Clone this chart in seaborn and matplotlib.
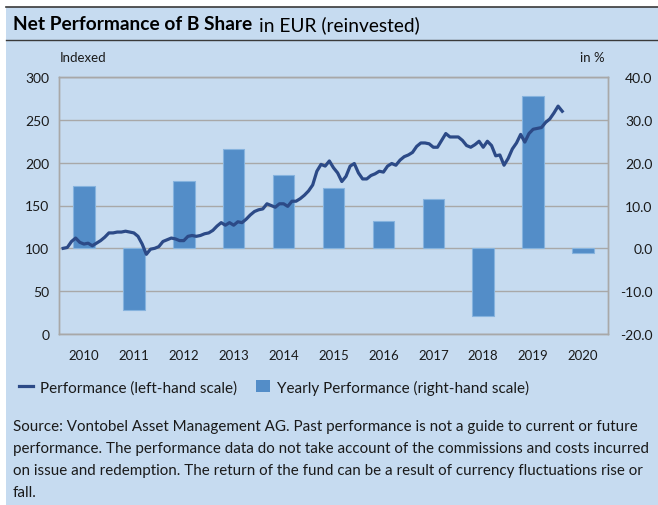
import numpy as np
import pandas as pd
import seaborn as sns
import matplotlib.pyplot as plt
from matplotlib.patches import Rectangle, Patch
from matplotlib.lines import Line2D
from matplotlib.ticker import MultipleLocator, FixedLocator

# Yearly performance in % (right-hand scale)
years = ['2010', '2011', '2012', '2013', '2014', '2015', '2016', '2017', '2018', '2019', '2020']
yearly = [14.6, -14.3, 15.8, 23.1, 17.1, 14.0, 6.4, 11.5, -15.7, 35.6, -1.2]

# Monthly indexed performance (left-hand scale), Jan 2010 - Jan 2020
perf = [
    100, 101, 108, 112, 107, 105, 106, 103, 106, 109, 113, 118,   # 2010
    118, 119, 119, 120, 119, 118, 114, 105, 93, 99, 100, 102,     # 2011
    108, 110, 112, 111, 109, 109, 114, 115, 114, 115, 117, 118,   # 2012
    121, 126, 130, 127, 130, 127, 131, 130, 134, 139, 143, 145,   # 2013
    146, 152, 150, 148, 152, 152, 149, 155, 155, 158, 162, 167,   # 2014
    174, 190, 198, 196, 202, 194, 188, 178, 184, 196, 199, 188,   # 2015
    181, 181, 185, 187, 190, 189, 196, 199, 197, 203, 207, 209,   # 2016
    212, 219, 223, 223, 222, 218, 218, 226, 234, 230, 230, 230,   # 2017
    226, 220, 218, 221, 225, 218, 225, 220, 208, 209, 197, 205,   # 2018
    216, 223, 233, 224, 234, 239, 240, 241, 247, 251, 258, 266,   # 2019
    260,                                                          # 2020
]
months = pd.date_range('2010-01-01', periods=len(perf), freq='MS')

BG = '#C6DBF0'
BAR = '#538DC8'
LINE = '#2C4A87'
GRID = '#A8A8A8'
TXT = '#1A1A1A'

plt.rcParams['font.family'] = ['Lato', 'DejaVu Sans']

W, H = 658, 506
fig = plt.figure(figsize=(W / 100, H / 100), dpi=100)
fig.patch.set_facecolor('white')

# panel background and title rules
fig.patches.append(Rectangle((6 / W, 0), 1, 1 - 8 / H, transform=fig.transFigure,
                             facecolor=BG, edgecolor='none', zorder=0))
fig.add_artist(Line2D([6 / W, 1], [1 - 8 / H, 1 - 8 / H], color='#3A3A3A', lw=1.2))
fig.add_artist(Line2D([6 / W, 1], [1 - 41 / H, 1 - 41 / H], color='#3A3A3A', lw=1.0))

# title: bold part followed by regular part
t1 = fig.text(13 / W, 1 - 25 / H, 'Net Performance of B Share', fontsize=13.8,
              fontweight='bold', va='center', ha='left', color='black')
fig.canvas.draw()
bb = t1.get_window_extent(renderer=fig.canvas.get_renderer())
fig.text((bb.x1 + 7) / W, 1 - 25 / H, 'in EUR (reinvested)', fontsize=13.8,
         va='center', ha='left', color='black')

# axes: ax = line (left scale), ax2 = bars (right scale)
ax = fig.add_axes([59 / W, 1 - 335 / H, (608 - 59) / W, (335 - 78) / H])
ax2 = ax.twinx()
ax.set_zorder(2)
ax2.set_zorder(1)
ax.patch.set_visible(False)
ax2.patch.set_visible(False)

sns.barplot(x=years, y=yearly, ax=ax2, color=BAR, width=0.43, saturation=1,
            edgecolor='#86B3DE', linewidth=0.8)

x_pos = (months.year - 2010) + (months.month) / 12 - 0.5
sns.lineplot(x=x_pos, y=perf, ax=ax, color=LINE, linewidth=2.3)

ax.set_xlim(-0.5, 10.5)
ax.set_ylim(0, 300)
ax2.set_ylim(-20, 40)

ax.yaxis.set_major_locator(MultipleLocator(50))
ax2.yaxis.set_major_locator(MultipleLocator(10))
ax2.set_yticklabels([f'{v:.1f}' for v in ax2.get_yticks()])

ax.set_xticks(range(len(years)))
ax.set_xticklabels(years)
ax2.xaxis.set_minor_locator(FixedLocator(np.arange(-0.5, 11, 1)))

ax2.set_axisbelow(True)
ax2.grid(True, which='major', axis='y', color=GRID, lw=1)
ax2.grid(True, which='minor', axis='x', color=GRID, lw=1)
ax2.grid(False, which='major', axis='x')

for a in (ax, ax2):
    a.set_xlabel('')
    a.set_ylabel('')
    for s in a.spines.values():
        s.set_color(GRID)
        s.set_linewidth(1)

ax.tick_params(axis='y', length=0, pad=7, labelsize=10, labelcolor=TXT)
ax.tick_params(axis='x', which='both', length=0, pad=11, labelsize=9.5, labelcolor=TXT)
ax2.tick_params(axis='y', length=0, pad=32, labelsize=10, labelcolor=TXT)
ax2.tick_params(axis='x', which='both', length=0)
for lab in ax2.get_yticklabels():
    lab.set_horizontalalignment('right')

fig.text(60 / W, 1 - 58 / H, 'Indexed', fontsize=9.5, va='center', ha='left', color=TXT)
fig.text(605 / W, 1 - 58 / H, 'in %', fontsize=9.5, va='center', ha='right', color=TXT)

handles = [Line2D([0], [0], color=LINE, lw=2.3),
           Patch(facecolor=BAR, edgecolor='none')]
fig.legend(handles, ['Performance (left-hand scale)', 'Yearly Performance (right-hand scale)'],
           loc='center left', bbox_to_anchor=(0.008, 1 - 388 / H), ncol=2, frameon=False,
           fontsize=11, handlelength=0.9, handleheight=0.85, handletextpad=0.5,
           columnspacing=1.2, labelcolor=TXT)

source = [
    'Source: Vontobel Asset Management AG. Past performance is not a guide to current or future',
    'performance. The performance data do not take account of the commissions and costs incurred',
    'on issue and redemption. The return of the fund can be a result of currency fluctuations rise or',
    'fall.',
]
for i, line in enumerate(source):
    fig.text(13 / W, 1 - (427 + 22 * i) / H, line, fontsize=10.9, va='center', ha='left',
             color=TXT)

fig.savefig('out.png', dpi=100)
